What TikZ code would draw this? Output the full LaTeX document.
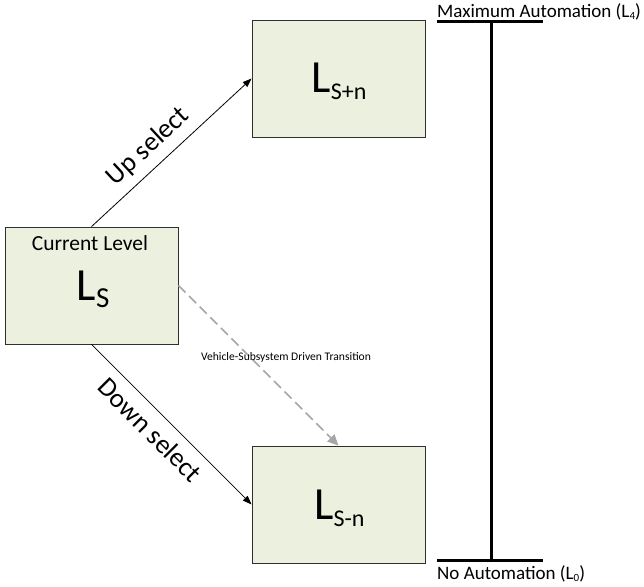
\documentclass[tikz,border=0pt]{standalone}
\usepackage{fontspec}
\setmainfont{Carlito}
\usetikzlibrary{arrows.meta}
\definecolor{boxfill}{HTML}{EBF1DE}
\definecolor{boxline}{HTML}{303030}
\definecolor{dashgray}{HTML}{A6A6A6}
\newcommand{\fsz}[1]{\fontsize{#1bp}{#1bp}\selectfont}
\begin{document}
\begin{tikzpicture}[x=1bp,y=-1bp,
  lvlbox/.style={draw=boxline,line width=0.8bp,fill=boxfill,minimum width=173bp,minimum height=117bp,inner sep=0pt},
  selarrow/.style={line width=0.8bp,-{Triangle[length=9bp,width=6.5bp]}},
  autoarrow/.style={dashgray,line width=1.6bp,dash pattern=on 10bp off 5bp,-{Triangle[length=11bp,width=10bp]}},
  bar/.style={line width=3bp},
  bigL/.style={inner sep=0pt,anchor=base},
  lbl/.style={inner sep=0pt}]
\useasboundingbox (0,0) rectangle (644,587);
% boxes
\node[lvlbox] (cur) at (91.5,285.5) {};
\node[lvlbox] (up) at (338.5,78.5) {};
\node[lvlbox] (dn) at (338.5,504.5) {};
% texts in boxes
\node[lbl,anchor=base] (curtxt) at (90,250) {\fsz{21.5}Current Level};
\node[bigL] (ls) at (93,300) {\fsz{46}L\raisebox{-7bp}{\fsz{29}S}};
\node[bigL] (lsn) at (339,93) {\fsz{46}L\raisebox{-7bp}{\fsz{24}S+n}};
\node[bigL] (lsm) at (339.5,519) {\fsz{46}L\raisebox{-7bp}{\fsz{24}S-n}};
% connectors
\draw[selarrow] (cur.north) -- node[lbl,sloped,pos=0.44,above=8bp]{\fsz{27}Up select} (up.west);
\draw[selarrow] (cur.south) -- node[lbl,sloped,pos=0.45,below=9bp]{\fsz{27}Down select} (dn.west);
\draw[autoarrow] (cur.east) -- (dn.north);
\node[lbl,anchor=base] (vtxt) at (286,360) {\fsz{11.6}Vehicle-Subsystem Driven Transition};
% automation scale
\coordinate (tl) at (437,22);
\coordinate (tr) at (543,22);
\coordinate (tm) at (491,22);
\coordinate (bl) at (437,560);
\coordinate (br) at (543,560);
\coordinate (bm) at (491,560);
\draw[bar] (tl) -- (tr);
\draw[bar] (bl) -- (br);
\draw[bar] (tm) -- (bm);
\node[lbl,anchor=base west] (maxt) at (437,18) {\fsz{19}Maximum Automation (L\raisebox{-2bp}{\fsz{11}4})};
\node[lbl,anchor=base west] (mint) at (437,579) {\fsz{19}No Automation (L\raisebox{-2bp}{\fsz{11}0})};
\end{tikzpicture}
\end{document}
